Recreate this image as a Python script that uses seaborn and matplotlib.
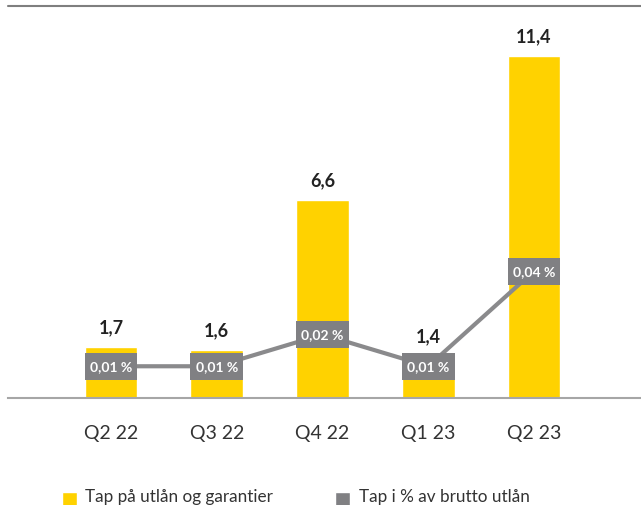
import matplotlib
matplotlib.use("Agg")
import matplotlib.pyplot as plt
import seaborn as sns
import pandas as pd
from matplotlib.patches import Rectangle
from matplotlib.lines import Line2D

categories = ["Q2 22", "Q3 22", "Q4 22", "Q1 23", "Q2 23"]
losses = [1.7, 1.6, 6.6, 1.4, 11.4]
loss_labels = ["1,7", "1,6", "6,6", "1,4", "11,4"]
pct = [0.01, 0.01, 0.02, 0.01, 0.04]
pct_labels = ["0,01 %", "0,01 %", "0,02 %", "0,01 %", "0,04 %"]
legend_labels = ["Tap på utlån og garantier", "Tap i % av brutto utlån"]

YELLOW = "#FFD200"
GREY = "#808083"
LINE_GREY = "#8a8a8c"

sns.set_style("white")
plt.rcParams["font.family"] = ["Lato", "DejaVu Sans"]

df = pd.DataFrame({"cat": categories, "loss": losses, "pct": pct})

fig = plt.figure(figsize=(6.41, 5.06), dpi=100)
ax = fig.add_axes([8/641, 1 - 399/506, 633/641, 392/506])

sns.barplot(data=df, x="cat", y="loss", color=YELLOW, width=0.5,
            saturation=1, ax=ax, zorder=2)
ax.set_xlim(-0.974, 5.012)
ax.set_ylim(0, 13.07)
ax.set_xlabel("")
ax.set_ylabel("")
ax.set_yticks([])
ax.tick_params(axis="x", length=0, pad=19, labelsize=14, labelcolor="#333333")
for s in ["left", "right", "top"]:
    ax.spines[s].set_visible(False)
ax.spines["bottom"].set_color("#a6a6a6")
ax.spines["bottom"].set_linewidth(1.5)

for i, (v, lab) in enumerate(zip(losses, loss_labels)):
    ax.annotate(lab, (i, v), xytext=(0, 8.5), textcoords="offset points",
                ha="center", va="bottom", fontsize=13, fontweight="bold",
                color="#222222")

ax2 = ax.twinx()
ax2.set_ylim(0, 0.1235)
ax2.set_xlim(-0.974, 5.012)
sns.lineplot(x=list(range(len(pct))), y=pct, ax=ax2, color=LINE_GREY,
             linewidth=3, zorder=3)
ax2.set_yticks([])
for s in ["left", "right", "top", "bottom"]:
    ax2.spines[s].set_visible(False)

box_h = 0.0085
for i, (v, lab) in enumerate(zip(pct, pct_labels)):
    ax2.add_patch(Rectangle((i - 0.25, v - box_h / 2), 0.5, box_h,
                            facecolor=GREY, edgecolor="none", zorder=4))
    ax2.text(i, v, lab, ha="center", va="center", color="white",
             fontsize=10, fontweight="bold", zorder=5)

# top rule
fig.add_artist(Line2D([8/641, 1], [1 - 7/506, 1 - 7/506], color="#7f7f7f",
                      linewidth=1.5, transform=fig.transFigure))

# legend
fig.add_artist(Rectangle((62/641, 1 - 508/506), 15/641, 15/506,
                         facecolor=YELLOW, transform=fig.transFigure))
fig.text(85/641, 1 - 497/506, legend_labels[0], fontsize=12.3,
         color="#333333", va="center")
fig.add_artist(Rectangle((335/641, 1 - 508/506), 15/641, 15/506,
                         facecolor=GREY, transform=fig.transFigure))
fig.text(359/641, 1 - 497/506, legend_labels[1], fontsize=12.3,
         color="#333333", va="center")

fig.savefig("out.png", dpi=100)
